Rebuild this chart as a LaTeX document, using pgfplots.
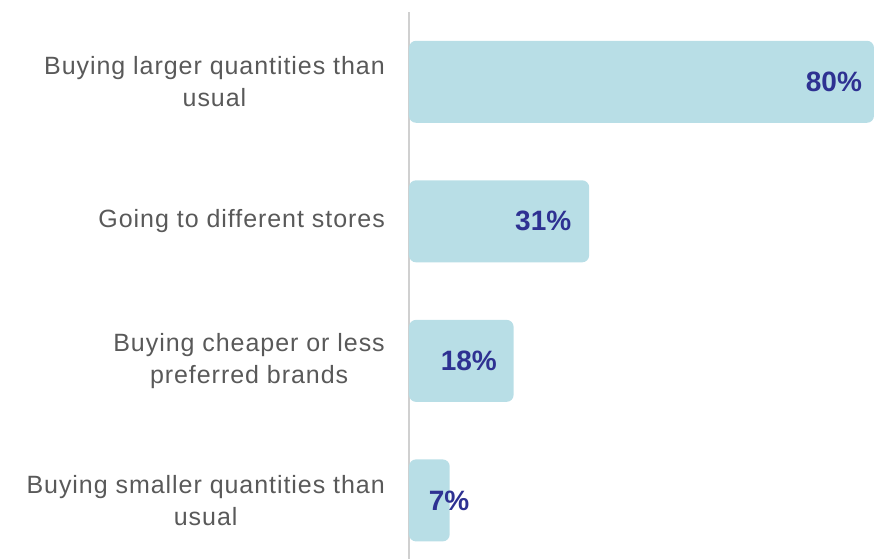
\documentclass[border=0pt]{standalone}
\usepackage{pgfplots}
\pgfplotsset{compat=1.18}
\usepackage{fontspec}
\setmainfont{Liberation Sans}
\newfontfamily\tickfont{Liberation Sans}[LetterSpace=3.8]
\definecolor{barc}{HTML}{B8DEE6}
\definecolor{labc}{HTML}{2E3192}
\definecolor{txt}{HTML}{595959}
\definecolor{axc}{HTML}{D0D0D0}
\begin{document}
\begin{tikzpicture}
\begin{axis}[name=ax, scale only axis, width=465pt, height=547pt,
  xmin=0, xmax=80, ymin=-0.5, ymax=3.42, y dir=reverse,
  axis x line=none, axis y line*=left,
  y axis line style={draw=axc, line width=2pt},
  xtick=\empty, ytick={0,1,2,3},
  yticklabels={{Buying larger quantities than\\usual},{Going to different stores},{Buying cheaper or less\\preferred brands},{Buying smaller quantities than\\usual}},
  major tick length=0pt,
  yticklabel style={align=center, font=\tickfont\fontsize{25}{32}\selectfont, text=txt, inner sep=0pt, xshift=-24pt},
  /pgf/number format/assume math mode=true,
  clip=false]
\addplot[xbar, bar width=82pt, fill=barc, draw=none, rounded corners=7pt] coordinates {(80,0) (31,1) (18,2) (7,3)};
\addplot[only marks, mark=none, point meta=explicit,
  nodes near coords={\pgfmathprintnumber{\pgfplotspointmeta}\%},
  nodes near coords style={font=\bfseries\fontsize{28}{28}\selectfont, text=labc, anchor=center}]
  table[meta=lab] {
x y lab
73.1 0 80
23.1 1 31
10.3 2 18
6.9 3 7
};
\end{axis}
\pgfresetboundingbox
\path[use as bounding box] ([xshift=-409pt]ax.south west) rectangle ([yshift=12pt]ax.north east);
\end{tikzpicture}
\end{document}
